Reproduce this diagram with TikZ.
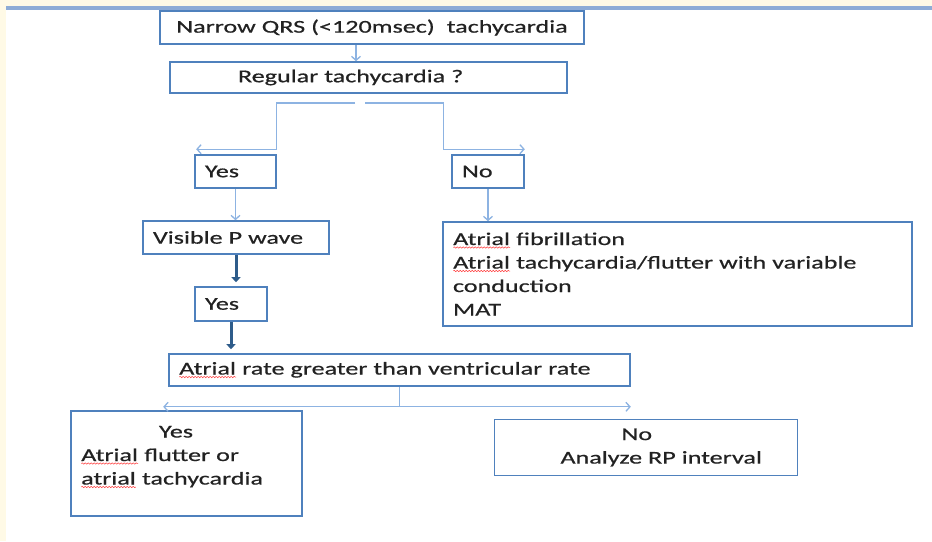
\documentclass[tikz,border=0pt]{standalone}
\usepackage{fontspec}
\setmainfont[FakeStretch=1.45,FakeBold=0.6]{Carlito}
\usetikzlibrary{arrows.meta,decorations.pathmorphing}

\definecolor{boxblue}{HTML}{4F81BD}
\definecolor{linkblue}{HTML}{8DB3E2}
\definecolor{darkarrow}{HTML}{2E5C8A}
\definecolor{cream}{HTML}{FFFAE6}
\definecolor{topline}{HTML}{8EACD6}
\definecolor{inkgray}{HTML}{222222}

% red spell-check squiggle under a word
\newcommand{\spell}[1]{\tikz[baseline=(w.base)]{\node[draw=none,fill=none,inner sep=0pt,outer sep=0pt,text width={},minimum width=0pt,minimum height=0pt,align=none] (w) {#1};\draw[red!75,line width=0.5pt,decorate,decoration={snake,amplitude=0.7pt,segment length=3pt}] ([yshift=-2.5pt]w.base west) -- ([yshift=-2.5pt]w.base east);}}

\begin{document}
\begin{tikzpicture}
  [x=1pt,y=-1pt,
   box/.style={draw=boxblue,line width=1.6pt,rectangle,inner xsep=10pt,inner ysep=2pt,
     text=inkgray,font=\fontsize{18pt}{23.5pt}\selectfont},
   conn/.style={linkblue,line width=1.3pt,-{Straight Barb[length=4pt,width=9pt]}},
   heavy/.style={darkarrow,line width=3pt,shorten >=4pt,-{Triangle[length=5pt,width=9pt]}}]
  \useasboundingbox (0,0) rectangle (932,541);
  \fill[cream] (0,0) rectangle (932,541);
  \fill[white] (6,10) rectangle (932,541);
  \fill[topline] (6,6) rectangle (932,10);

  \node[box,text width=404pt,align=center,minimum height=33pt] (narrow) at (372,27.5) {Narrow QRS (<120msec)\ \ tachycardia};
  \node[box,text width=377pt,align=left,minimum height=31pt] (regular) at (368.5,77.5) {\hspace*{58pt}Regular tachycardia ?};
  \node[box,text width=61pt,align=left,minimum height=33pt] (yes1) at (235.5,171.5) {Yes};
  \node[box,text width=52pt,align=left,minimum height=33pt] (no1) at (488,171.5) {No};
  \node[box,text width=166pt,align=left,minimum height=33pt] (visible) at (236,237.5) {Visible P wave};
  \node[box,text width=52pt,align=left,minimum height=34pt] (yes2) at (231,304) {Yes};
  \node[box,text width=449pt,align=left,minimum height=104pt] (af) at (677.5,274)
    {\spell{Atrial} fibrillation\\\spell{Atrial} tachycardia/flutter with variable\\conduction\\MAT};
  \node[box,text width=441pt,align=left,minimum height=32pt] (rate) at (399.5,370)
    {\spell{Atrial} rate greater than ventricular rate};
  \node[box,text width=211pt,align=left,minimum height=105pt] (yes3) at (186.5,463.5)
    {\hspace*{78pt}Yes\\\spell{Atrial} flutter or\\\spell{atrial} tachycardia\\[-14pt]\strut};
  \node[box,text width=283pt,align=left,minimum height=56pt] (no3) at (646,447.5)
    {\hspace*{117pt}No\\\hspace*{56pt}Analyze RP interval};

  \coordinate (stem) at (356,0);
  \coordinate (splitL) at (355,103);
  \coordinate (splitR) at (365,103);
  \coordinate (fork) at ([yshift=-20pt]rate.south);

  \draw[conn] (narrow.south -| stem) -- (regular.north -| stem);
  \draw[conn] (splitL) -| ([yshift=5pt]yes1.north east) -- ([shift={(2pt,5pt)}]yes1.north west);
  \draw[conn] (splitR) -| ([xshift=-8pt,yshift=5pt]no1.north west) -- ([yshift=5pt]no1.north east);

  \foreach \from/\to in {yes1/visible,no1/af}
    \draw[conn] (\from.south) -- (\from.south |- \to.north);
  \foreach \from/\to in {visible/yes2,yes2/rate}
    \draw[heavy] (\from.south) -- (\from.south |- \to.north);

  \draw[conn,-] (rate.south) -- (fork);
  \draw[conn] (fork) -- ([xshift=-5pt]fork -| rate.west);
  \draw[conn] (fork) -- (fork -| rate.east);
\end{tikzpicture}
\end{document}
